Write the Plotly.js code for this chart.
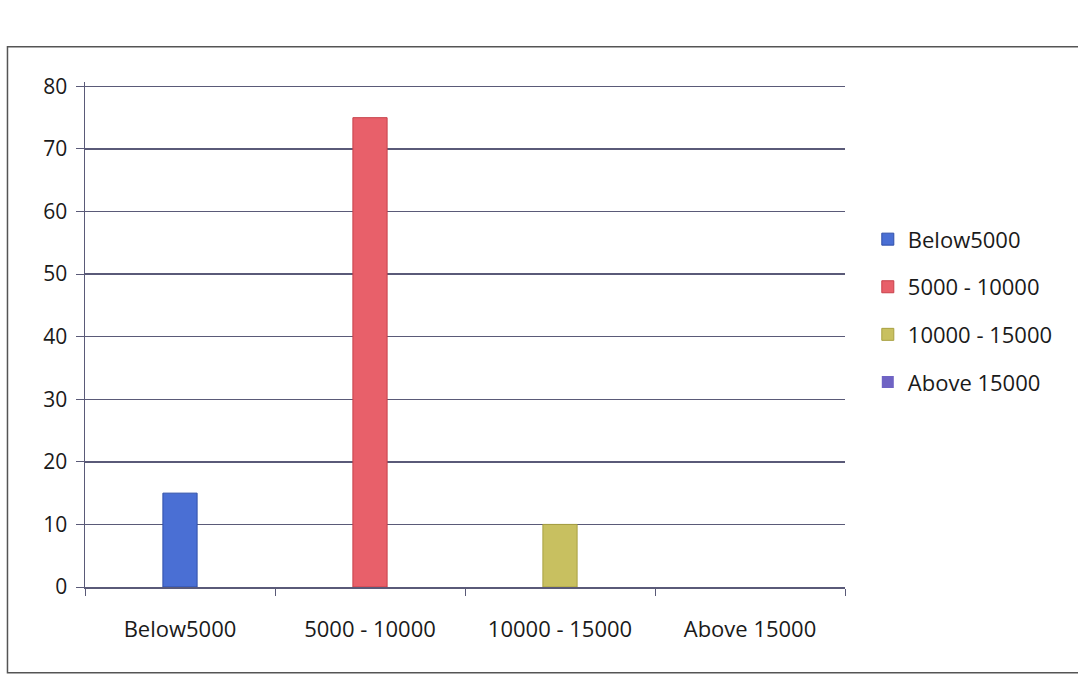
<!DOCTYPE html>
<html>
<head>
<meta charset="utf-8">
<script src="https://cdn.plot.ly/plotly-3.0.1.min.js"></script>
<style>html,body{margin:0;padding:0;background:#fff;}#chart{width:1078px;height:681px;}</style>
</head>
<body>
<div id="chart"></div>
<script>
const categories = ["Below5000", "5000 - 10000", "10000 - 15000", "Above 15000"];
const values = [15, 75, 10, 0];
const colors = ["#4a6fd4", "#e8606a", "#c8c060", "#6f63c4"];
const lineColors = ["#2f4fa8", "#c8404a", "#a8a040", "#4f43a4"];

const traces = categories.map((c, i) => ({
  type: "bar",
  name: c,
  x: [c],
  y: [values[i]],
  width: 0.18,
  legendgroup: "g" + i,
  marker: {color: colors[i], line: {color: lineColors[i], width: values[i] > 0 ? 1 : 0}},
  hoverinfo: "x+y"
}));

const layout = {
  width: 1078, height: 681,
  margin: {l: 85, r: 233, t: 82, b: 94},
  paper_bgcolor: "#ffffff",
  plot_bgcolor: "#ffffff",
  barmode: "overlay",
  font: {family: "Open Sans, Liberation Sans, sans-serif", size: 22, color: "#1a1a1a"},
  showlegend: true,
  legend: {
    x: 1.03, y: 0.73, xanchor: "left", yanchor: "top",
    font: {size: 22, color: "#1a1a1a"},
    tracegroupgap: 16,
    itemwidth: 30,
    bgcolor: "rgba(0,0,0,0)"
  },
  xaxis: {
    type: "category",
    categoryorder: "array",
    categoryarray: categories,
    showgrid: false,
    showline: true, linecolor: "#5a5a78", linewidth: 1.5,
    ticks: "outside", tickson: "boundaries", ticklen: 7, tickcolor: "#5a5a78",
    tickfont: {size: 22},
    ticklabelstandoff: 22,
    zeroline: false
  },
  yaxis: {
    range: [0, 80.7], dtick: 10,
    showgrid: true, gridcolor: "#5a5a78", gridwidth: 1.5,
    showline: true, linecolor: "#5a5a78", linewidth: 1.5,
    ticks: "outside", ticklen: 8, tickcolor: "#5a5a78",
    tickfont: {size: 21},
    ticklabelstandoff: 4,
    zeroline: false
  },
  shapes: [{
    type: "rect", xref: "paper", yref: "paper",
    x0: -0.102, x1: 1.31, y0: -0.17, y1: 1.07,
    line: {color: "#555555", width: 1.5}
  }]
};

Plotly.newPlot("chart", traces, layout, {displayModeBar: false, staticPlot: true});
</script>
</body>
</html>
